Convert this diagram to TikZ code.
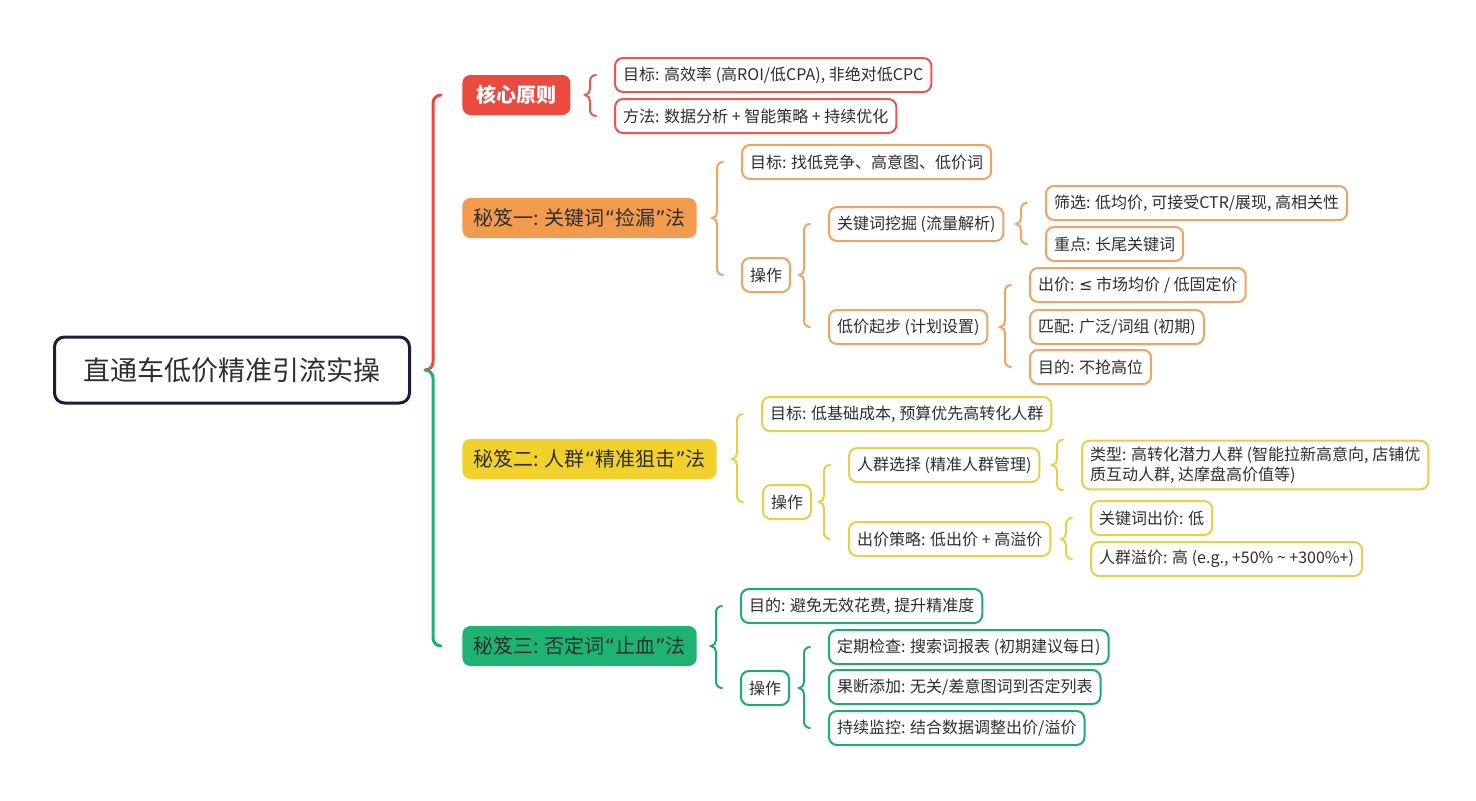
\documentclass[tikz,border=0pt]{standalone}
\usepackage{fontspec}
\newfontfamily\cjk{Noto Sans CJK SC}
\newfontfamily\lat{DejaVu Sans}
\usetikzlibrary{calc}
\definecolor{mmNavy}{HTML}{1E1C3A}
\definecolor{mmText}{HTML}{2E2E2E}
\definecolor{mmRed}{HTML}{EB4A3E}
\definecolor{mmRedL}{HTML}{E25A55}
\definecolor{mmOrange}{HTML}{F29A4D}
\definecolor{mmOrangeL}{HTML}{EDA465}
\definecolor{mmYellow}{HTML}{F2D12C}
\definecolor{mmYellowL}{HTML}{E9CE4C}
\definecolor{mmGreen}{HTML}{1EB273}
\definecolor{mmGreenL}{HTML}{22A874}
% narrow quotes
\newcommand{\mmq}[1]{{\lat “}#1{\lat ”}}
% brace: colour, parent, top end, bottom end
\newcommand{\mmbrace}[4]{%
  \draw[subbrace, #1] let \p1=(#2.east), \p2=(#3), \p3=(#4) in
    (\x2-9pt,\y2) to[out=180,in=90] (\x2-12pt,\y2-3pt) -- (\x2-12pt,\y1+3pt)
    to[out=-90,in=0] (\x2-14.5pt,\y1) to[out=0,in=90] (\x2-12pt,\y1-3pt)
    -- (\x2-12pt,\y3+3pt) to[out=-90,in=180] (\x2-9pt,\y3);}

\begin{document}
\begin{tikzpicture}[x=0.5pt, y=-0.5pt,
    root/.style={draw=mmNavy, line width=1.5pt, rounded corners=5pt, fill=white, font=\cjk\fontsize{13.5}{16}\selectfont, text=mmText, minimum width=177.5pt, minimum height=33pt},
    branch/.style={fill=#1, rounded corners=4pt, font=\cjk\fontsize{10}{12}\selectfont, text=mmText, inner xsep=5.5pt, minimum height=20pt, anchor=west},
    leaf/.style={draw=#1, line width=1pt, rounded corners=4pt, fill=white, font=\cjk\fontsize{8}{10}\selectfont, text=mmText, inner xsep=4pt, inner ysep=3pt, minimum height=17pt, anchor=west},
    subbrace/.style={line width=1pt, line cap=round},
    mainbrace/.style={line width=1.5pt, line cap=round}
]
    \useasboundingbox (0,0) rectangle (1476,800);

    \node[root] (root) at (232,370) {直通车低价精准引流实操};

    % core
    \node[branch=mmRed, text=white, inner xsep=7pt, font=\cjk\bfseries\fontsize{10}{12}\selectfont] (core) at (462,95) {核心原则};
    \node[leaf=mmRedL] (c1) at (614,75) {目标: 高效率 (高ROI/低CPA), 非绝对低CPC};
    \node[leaf=mmRedL] (c2) at (614,116) {方法: 数据分析 + 智能策略 + 持续优化};

    % tip 1
    \node[branch=mmOrange] (b1) at (462,218) {秘笈一: 关键词\mmq{捡漏}法};
    \node[leaf=mmOrangeL] (k1) at (741,162) {目标: 找低竞争、高意图、低价词};
    \node[leaf=mmOrangeL] (k2) at (741,275) {操作};
    \node[leaf=mmOrangeL] (k21) at (828,224) {关键词挖掘 (流量解析)};
    \node[leaf=mmOrangeL] (k22) at (828,327) {低价起步 (计划设置)};
    \node[leaf=mmOrangeL] (k211) at (1045,203) {筛选: 低均价, 可接受CTR/展现, 高相关性};
    \node[leaf=mmOrangeL] (k212) at (1045,244) {重点: 长尾关键词};
    \node[leaf=mmOrangeL] (k221) at (1029,285) {出价: {\lat ≤} 市场均价 / 低固定价};
    \node[leaf=mmOrangeL] (k222) at (1029,327) {匹配: 广泛/词组 (初期)};
    \node[leaf=mmOrangeL] (k223) at (1029,367) {目的: 不抢高位};

    % tip 2
    \node[branch=mmYellow] (b2) at (462,459) {秘笈二: 人群\mmq{精准狙击}法};
    \node[leaf=mmYellowL] (p1) at (761,414) {目标: 低基础成本, 预算优先高转化人群};
    \node[leaf=mmYellowL] (p2) at (762,502) {操作};
    \node[leaf=mmYellowL] (p21) at (848,465) {人群选择 (精准人群管理)};
    \node[leaf=mmYellowL] (p22) at (848,539) {出价策略: 低出价 + 高溢价};
    \node[leaf=mmYellowL, align=left] (p211) at (1081,465) {类型: 高转化潜力人群 (智能拉新高意向, 店铺优\\质互动人群, 达摩盘高价值等)};
    \node[leaf=mmYellowL] (p221) at (1090,518) {关键词出价: 低};
    \node[leaf=mmYellowL] (p222) at (1090,559) {人群溢价: 高 (e.g., +50\% \textasciitilde\ +300\%+)};

    % tip 3
    \node[branch=mmGreen] (b3) at (462,646) {秘笈三: 否定词\mmq{止血}法};
    \node[leaf=mmGreenL] (n1) at (740,606) {目的: 避免无效花费, 提升精准度};
    \node[leaf=mmGreenL] (n2) at (740,688) {操作};
    \node[leaf=mmGreenL] (n21) at (828,647) {定期检查: 搜索词报表 (初期建议每日)};
    \node[leaf=mmGreenL] (n22) at (828,687) {果断添加: 无关/差意图词到否定列表};
    \node[leaf=mmGreenL] (n23) at (828,728) {持续监控: 结合数据调整出价/溢价};

    % main brace
    \draw[mainbrace, mmRed] let \p1=(root.east), \p2=(core.west) in
        (\x2-10.5pt,\y2) to[out=180,in=90] (\x2-14.5pt,\y2-4pt) -- (\x2-14.5pt,\y1+4pt)
        to[out=-90,in=0] (\x2-18.5pt,\y1);
    \draw[mainbrace, mmGreen] let \p1=(root.east), \p3=(b3.west) in
        (\x3-18.5pt,\y1) to[out=0,in=90] (\x3-14.5pt,\y1-4pt) -- (\x3-14.5pt,\y3+4pt)
        to[out=-90,in=180] (\x3-10.5pt,\y3);

    % sub braces
    \mmbrace{mmRedL}{core}{c1.west}{c2.west}
    \mmbrace{mmOrangeL}{b1}{k1.west}{k2.west}
    \mmbrace{mmOrangeL}{k2}{k21.west}{k22.west}
    \mmbrace{mmOrangeL}{k21}{k211.west}{k212.west}
    \mmbrace{mmOrangeL}{k22}{k221.west}{k223.west}
    \mmbrace{mmYellowL}{b2}{p1.west}{p2.west}
    \mmbrace{mmYellowL}{p2}{p21.west}{p22.west}
    \mmbrace{mmYellowL}{p21}{p211.north west}{p211.south west}
    \mmbrace{mmYellowL}{p22}{p221.west}{p222.west}
    \mmbrace{mmGreenL}{b3}{n1.west}{n2.west}
    \mmbrace{mmGreenL}{n2}{n21.west}{n23.west}
\end{tikzpicture}
\end{document}
